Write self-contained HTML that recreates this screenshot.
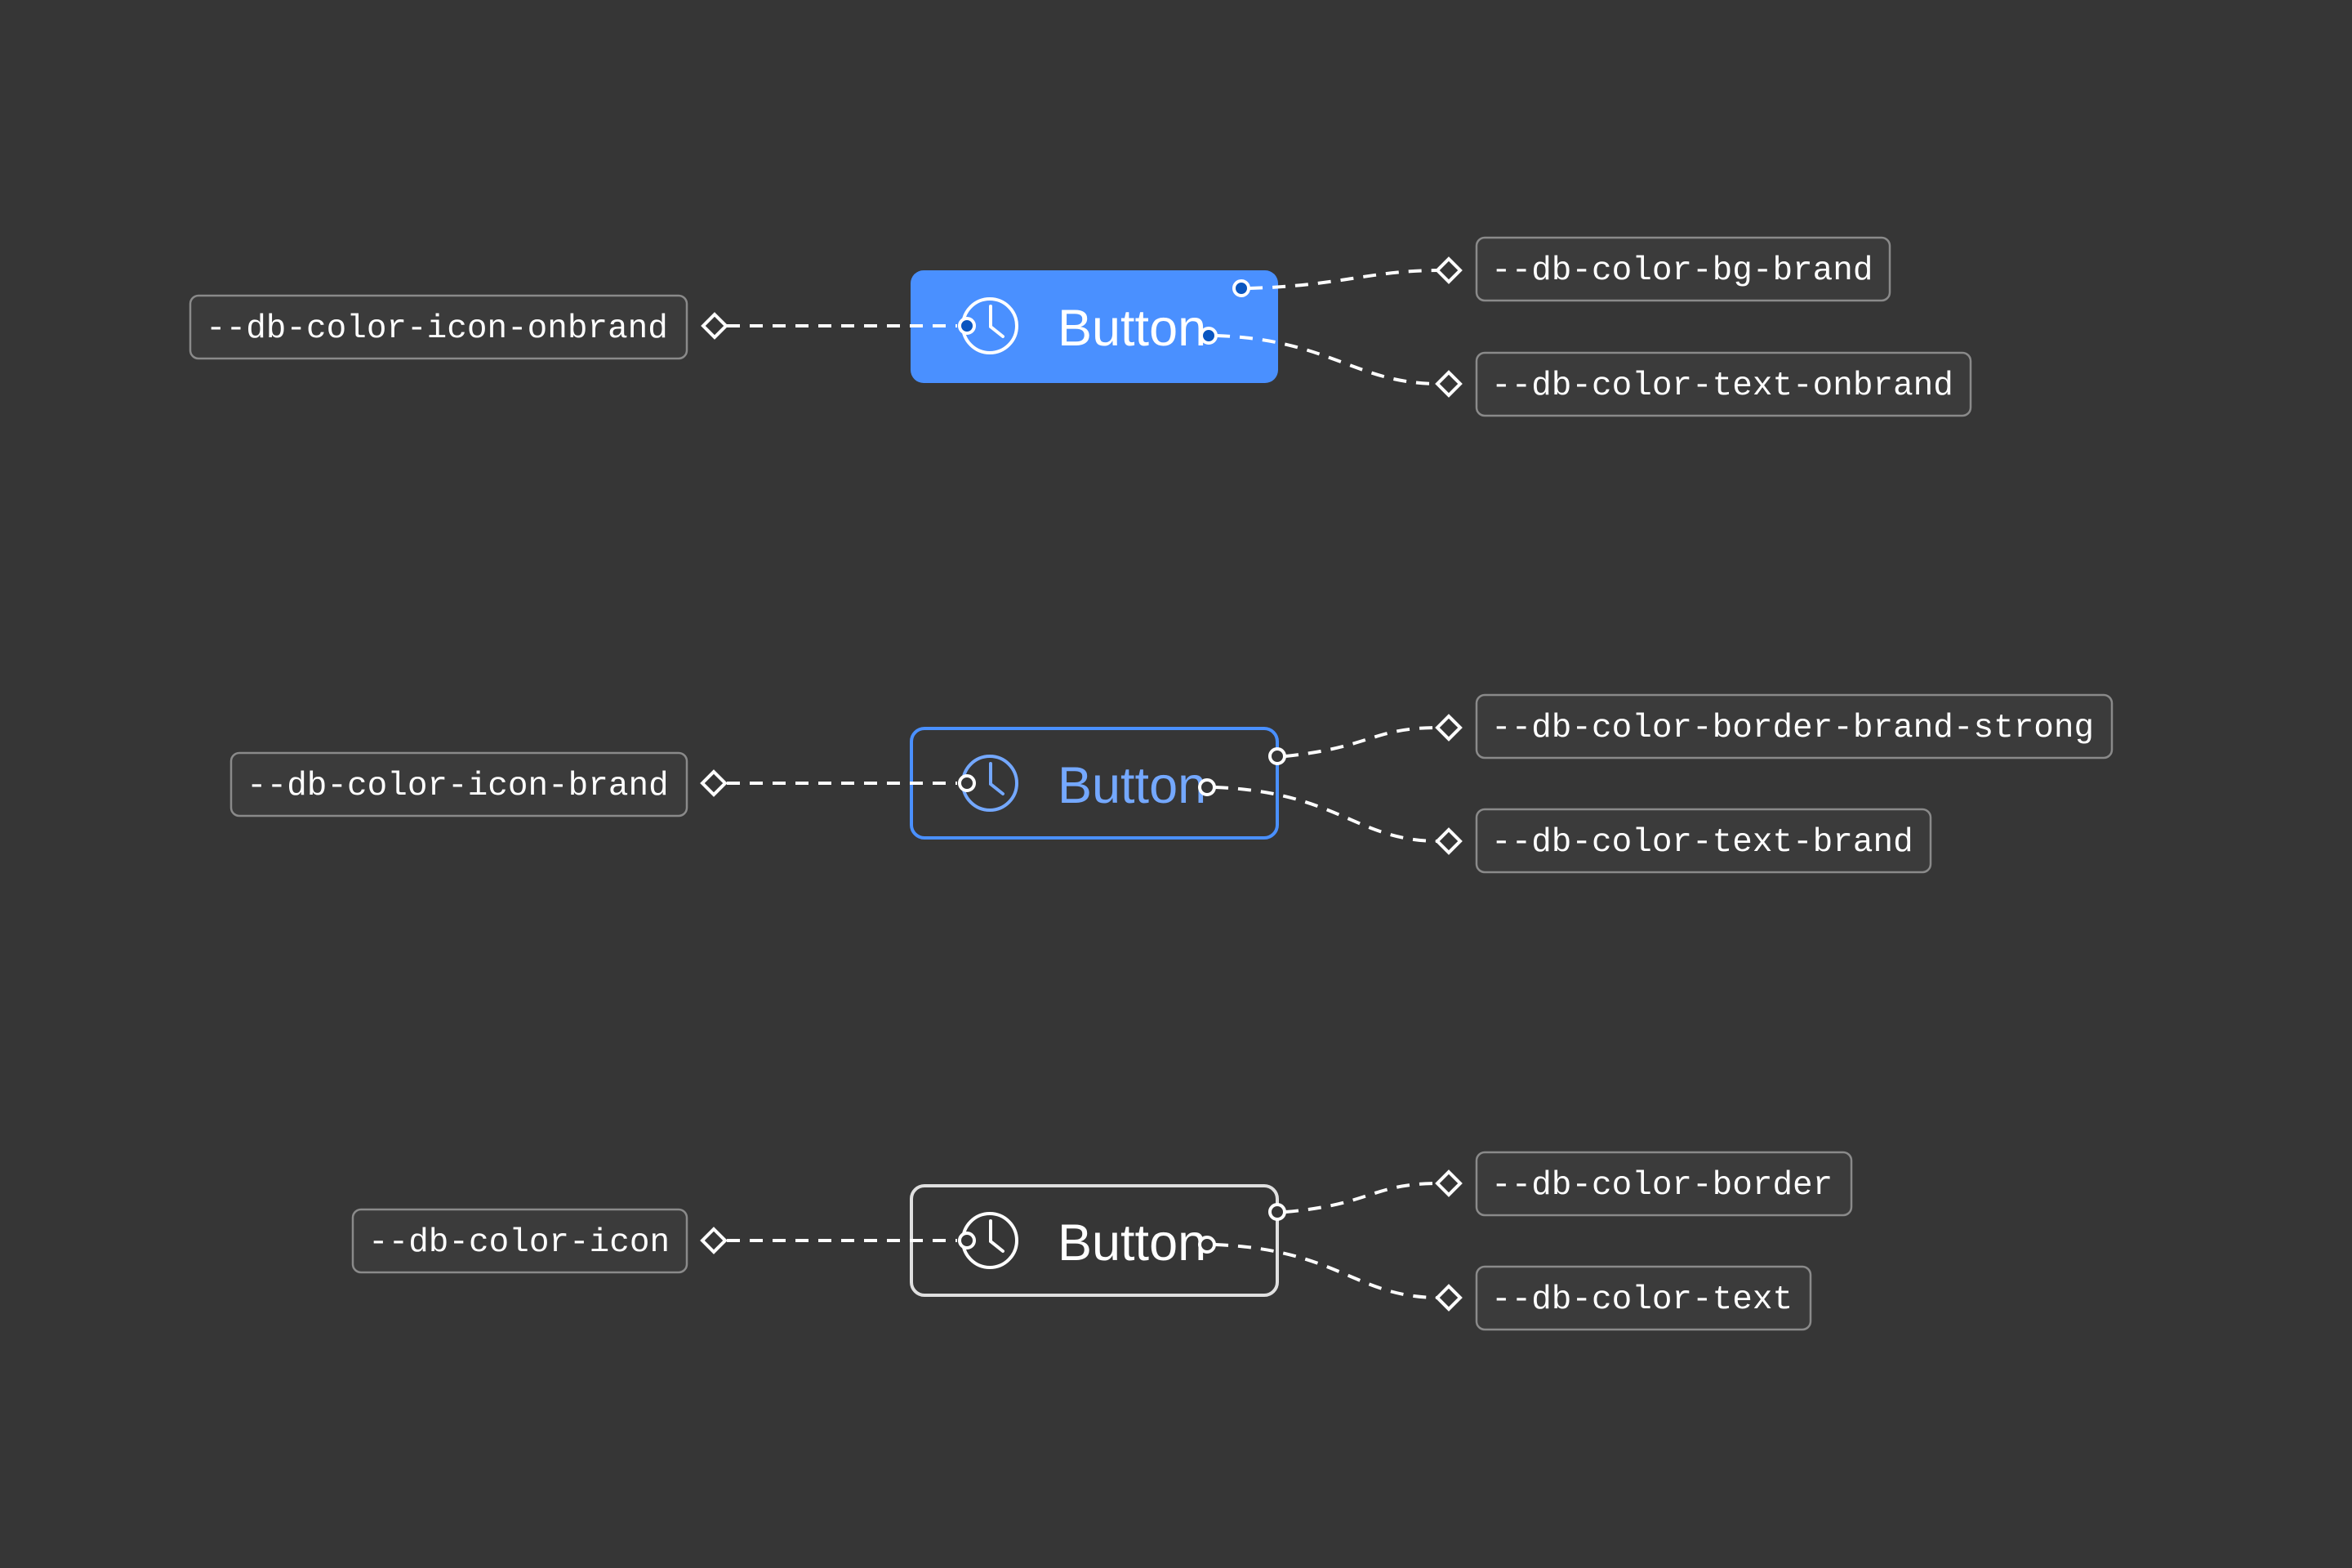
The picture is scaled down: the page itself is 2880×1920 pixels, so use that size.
<!DOCTYPE html>
<html><head><meta charset="utf-8"><style>
html,body{margin:0;padding:0;background:#363636;}
svg{display:block;}
.lbl{font-family:"Liberation Mono",monospace;font-size:41px;fill:#fff;}
.bt{font-family:"Liberation Sans",sans-serif;font-size:63px;}
.box{fill:#3b3b3b;stroke:#8a8a8a;stroke-width:2.5;}
.dash{fill:none;stroke:#fff;stroke-width:4;stroke-dasharray:16 12;}
.dia{fill:#363636;stroke:#fff;stroke-width:4;}
</style></head><body>
<svg width="2880" height="1920" viewBox="0 0 2880 1920" xmlns="http://www.w3.org/2000/svg">
<rect width="2880" height="1920" fill="#363636"/>

<rect x="1115" y="331" width="450" height="138" rx="16" fill="#4a90ff"/>
<circle cx="1212" cy="399" r="33" fill="none" stroke="#fff" stroke-width="4"/>
<path d="M1213 375 V400 L1228 412" fill="none" stroke="#fff" stroke-width="4" stroke-linecap="round"/>
<text x="1295" y="423" class="bt" fill="#fff">Button</text>

<rect x="1116" y="892" width="448" height="134" rx="16" fill="none" stroke="#4a90ff" stroke-width="4"/>
<circle cx="1212" cy="959" r="33" fill="none" stroke="#74a8ff" stroke-width="4"/>
<path d="M1213 935 V960 L1228 972" fill="none" stroke="#74a8ff" stroke-width="4" stroke-linecap="round"/>
<text x="1295" y="983" class="bt" fill="#74a8ff">Button</text>

<rect x="1116" y="1452" width="448" height="134" rx="16" fill="none" stroke="#e0e0e0" stroke-width="4"/>
<circle cx="1212" cy="1519" r="33" fill="none" stroke="#fff" stroke-width="4"/>
<path d="M1213 1495 V1520 L1228 1532" fill="none" stroke="#fff" stroke-width="4" stroke-linecap="round"/>
<text x="1295" y="1543" class="bt" fill="#fff">Button</text>

<rect x="233" y="362" width="608" height="77" rx="10" class="box"/>
<text x="252" y="413" class="lbl">--db-color-icon-onbrand</text>
<rect x="283" y="922" width="558" height="77" rx="10" class="box"/>
<text x="302" y="973" class="lbl">--db-color-icon-brand</text>
<rect x="432" y="1481" width="409" height="77" rx="10" class="box"/>
<text x="451" y="1532" class="lbl">--db-color-icon</text>

<rect x="1808" y="291" width="506" height="77" rx="10" class="box"/>
<text x="1826" y="342" class="lbl">--db-color-bg-brand</text>
<rect x="1808" y="432" width="605" height="77" rx="10" class="box"/>
<text x="1826" y="483" class="lbl">--db-color-text-onbrand</text>
<rect x="1808" y="851" width="778" height="77" rx="10" class="box"/>
<text x="1826" y="902" class="lbl">--db-color-border-brand-strong</text>
<rect x="1808" y="991" width="556" height="77" rx="10" class="box"/>
<text x="1826" y="1042" class="lbl">--db-color-text-brand</text>
<rect x="1808" y="1411" width="459" height="77" rx="10" class="box"/>
<text x="1826" y="1462" class="lbl">--db-color-border</text>
<rect x="1808" y="1551" width="409" height="77" rx="10" class="box"/>
<text x="1826" y="1602" class="lbl">--db-color-text</text>

<path class="dash" d="M890 399 H1172"/>
<path class="dash" d="M890 959 H1172"/>
<path class="dash" d="M890 1519 H1172"/>
<path class="dash" d="M1530 353 C1640 350,1680 331,1762 331"/>
<path class="dash" d="M1490 411 C1630 416,1660 470,1762 470"/>
<path class="dash" d="M1574 926 C1680 915,1680 891,1762 891"/>
<path class="dash" d="M1488 964 C1640 970,1660 1030,1762 1030"/>
<path class="dash" d="M1574 1484 C1680 1475,1680 1449,1762 1449"/>
<path class="dash" d="M1488 1524 C1640 1530,1660 1589,1762 1589"/>

<path class="dia" d="M875 385 L889 399 L875 413 L861 399 Z"/>
<path class="dia" d="M874 945 L888 959 L874 973 L860 959 Z"/>
<path class="dia" d="M874 1505 L888 1519 L874 1533 L860 1519 Z"/>
<path class="dia" d="M1774 317 L1788 331 L1774 345 L1760 331 Z"/>
<path class="dia" d="M1774 456 L1788 470 L1774 484 L1760 470 Z"/>
<path class="dia" d="M1774 877 L1788 891 L1774 905 L1760 891 Z"/>
<path class="dia" d="M1774 1016 L1788 1030 L1774 1044 L1760 1030 Z"/>
<path class="dia" d="M1774 1435 L1788 1449 L1774 1463 L1760 1449 Z"/>
<path class="dia" d="M1774 1575 L1788 1589 L1774 1603 L1760 1589 Z"/>

<g stroke="#fff" stroke-width="4">
<circle cx="1184" cy="399" r="9" fill="#0a56c0"/>
<circle cx="1520" cy="353" r="9" fill="#0a56c0"/>
<circle cx="1480" cy="411" r="9" fill="#0a56c0"/>
<circle cx="1184" cy="959" r="9" fill="#363636"/>
<circle cx="1564" cy="926" r="9" fill="#363636"/>
<circle cx="1478" cy="964" r="9" fill="#363636"/>
<circle cx="1184" cy="1519" r="9" fill="#363636"/>
<circle cx="1564" cy="1484" r="9" fill="#363636"/>
<circle cx="1478" cy="1524" r="9" fill="#363636"/>
</g>
</svg>
</body></html>
